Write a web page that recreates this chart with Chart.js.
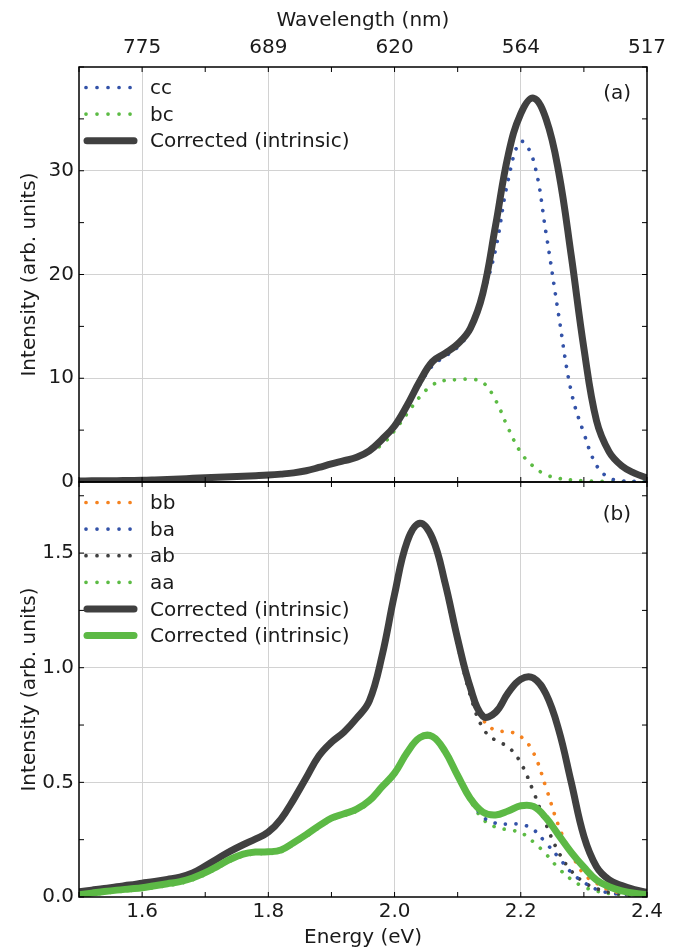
<!DOCTYPE html>
<html lang="en">
<head>
<meta charset="UTF-8">
<title>Polarized emission spectra</title>
<script src="https://cdn.jsdelivr.net/npm/chart.js@4"></script>
<style>
  html, body { margin: 0; padding: 0; background: #fff; }
  #wrap { width: 679px; height: 950px; }
</style>
</head>
<body>
<div id="wrap"><canvas id="spectra" width="679" height="950"></canvas></div>
<script>
// energy grid (eV)
const energy = [1.50, 1.52, 1.54, 1.56, 1.58, 1.60, 1.62, 1.64, 1.66, 1.68,
                1.70, 1.72, 1.74, 1.76, 1.78, 1.80, 1.82, 1.84, 1.86, 1.88,
                1.90, 1.92, 1.94, 1.96, 1.98, 2.00, 2.02, 2.04, 2.06, 2.08,
                2.10, 2.12, 2.14, 2.16, 2.18, 2.20, 2.22, 2.24, 2.26, 2.28,
                2.30, 2.32, 2.34, 2.36, 2.38, 2.40];

// top axis: wavelength labels at these energies
const wavelengthAt = [1.6, 1.8, 2.0, 2.2, 2.4];
const wavelengthLabels = ['775', '689', '620', '564', '517'];

// panel (a)
const aCc = [0.10, 0.11, 0.12, 0.13, 0.145, 0.16, 0.20, 0.25, 0.30, 0.35,
             0.41, 0.46, 0.51, 0.56, 0.61, 0.67, 0.76, 0.88, 1.08, 1.40,
             1.75, 2.05, 2.38, 3.0, 4.1, 5.3, 7.2, 9.4, 11.2, 12.1,
             13.0, 14.6, 18.0, 22.4, 29.1, 32.8, 31.0, 24.0, 16.1, 8.7,
             4.7, 1.6, 0.4, 0.12, 0.05, 0.02];
const aBc = [0.10, 0.11, 0.12, 0.13, 0.145, 0.16, 0.20, 0.25, 0.30, 0.35,
             0.41, 0.46, 0.51, 0.56, 0.61, 0.67, 0.76, 0.88, 1.08, 1.40,
             1.75, 2.05, 2.38, 2.9, 3.6, 4.95, 6.6, 8.2, 9.35, 9.8,
             9.85, 9.9, 9.6, 7.9, 5.2, 2.85, 1.5, 0.7, 0.35, 0.2,
             0.12, 0.08, 0.05, 0.03, 0.02, 0.01];
const aCorrected = [0.10, 0.11, 0.12, 0.13, 0.145, 0.16, 0.20, 0.25, 0.30, 0.35,
                    0.41, 0.46, 0.51, 0.56, 0.61, 0.67, 0.76, 0.88, 1.08, 1.40,
                    1.75, 2.05, 2.38, 3.0, 4.1, 5.4, 7.4, 9.7, 11.6, 12.4,
                    13.3, 14.8, 18.2, 24.7, 31.5, 35.5, 37.0, 35.0, 29.9, 21.8,
                    12.9, 5.9, 2.9, 1.55, 0.85, 0.4];

// panel (b)
const bBb = [0.023, 0.03, 0.037, 0.045, 0.052, 0.06, 0.068, 0.077, 0.087, 0.105,
             0.135, 0.168, 0.200, 0.228, 0.253, 0.283, 0.34, 0.425, 0.52, 0.615,
             0.675, 0.72, 0.78, 0.855, 1.05, 1.32, 1.55, 1.63, 1.565, 1.37,
             1.125, 0.914, 0.775, 0.726, 0.722, 0.70, 0.63, 0.477, 0.31, 0.19,
             0.10, 0.06, 0.03, 0.018, 0.012, 0.008];
const bBa = [0.01, 0.017, 0.024, 0.03, 0.035, 0.04, 0.049, 0.058, 0.067, 0.083,
             0.106, 0.135, 0.165, 0.187, 0.196, 0.197, 0.205, 0.237, 0.272, 0.31,
             0.344, 0.363, 0.383, 0.42, 0.48, 0.54, 0.63, 0.695, 0.70, 0.635,
             0.53, 0.43, 0.35, 0.322, 0.318, 0.317, 0.294, 0.235, 0.173, 0.107,
             0.064, 0.033, 0.018, 0.012, 0.008, 0.005];
const bAb = [0.023, 0.03, 0.037, 0.045, 0.052, 0.06, 0.068, 0.077, 0.087, 0.105,
             0.135, 0.168, 0.200, 0.228, 0.253, 0.283, 0.34, 0.425, 0.52, 0.615,
             0.675, 0.72, 0.78, 0.855, 1.05, 1.32, 1.55, 1.63, 1.55, 1.345,
             1.10, 0.88, 0.736, 0.683, 0.655, 0.585, 0.46, 0.317, 0.195, 0.114,
             0.065, 0.037, 0.02, 0.012, 0.008, 0.005];
const bAa = [0.005, 0.011, 0.017, 0.023, 0.028, 0.033, 0.041, 0.05, 0.059, 0.075,
             0.098, 0.127, 0.157, 0.179, 0.188, 0.189, 0.197, 0.229, 0.264, 0.302,
             0.336, 0.355, 0.375, 0.412, 0.472, 0.532, 0.622, 0.687, 0.692, 0.627,
             0.52, 0.42, 0.34, 0.305, 0.293, 0.281, 0.24, 0.187, 0.125, 0.077,
             0.044, 0.026, 0.015, 0.01, 0.006, 0.004];
const bCorrected = [0.023, 0.03, 0.037, 0.045, 0.052, 0.06, 0.068, 0.077, 0.087, 0.105,
                    0.135, 0.168, 0.200, 0.228, 0.253, 0.283, 0.34, 0.425, 0.52, 0.615,
                    0.675, 0.72, 0.78, 0.855, 1.05, 1.32, 1.55, 1.63, 1.565, 1.37,
                    1.125, 0.914, 0.788, 0.805, 0.89, 0.95, 0.955, 0.885, 0.73, 0.50,
                    0.265, 0.132, 0.075, 0.05, 0.032, 0.02];
const bCorrectedAlt = [0.01, 0.017, 0.024, 0.03, 0.035, 0.04, 0.049, 0.058, 0.067, 0.083,
                       0.106, 0.135, 0.165, 0.187, 0.196, 0.197, 0.205, 0.237, 0.272, 0.31,
                       0.344, 0.363, 0.383, 0.42, 0.48, 0.54, 0.63, 0.695, 0.70, 0.635,
                       0.53, 0.43, 0.37, 0.358, 0.375, 0.398, 0.395, 0.345, 0.27, 0.195,
                       0.13, 0.074, 0.045, 0.027, 0.016, 0.01];

const DARK = '#404040';
const GREEN = '#5cb945';
const dotted = [0.01, 10.5];

function pts(arr) {
    return energy.map((e, i) => ({ x: e, y: arr[i] }));
}
function dots(label, arr, color, axis) {
    return { label: label, data: pts(arr), yAxisID: axis, borderColor: color,
             borderWidth: 3.7, borderDash: dotted, borderCapStyle: 'round', order: 2 };
}
function solid(label, arr, color, axis, order) {
    return { label: label, data: pts(arr), yAxisID: axis, borderColor: color,
             borderWidth: 7, borderCapStyle: 'round', borderJoinStyle: 'round', order: order };
}

const gridGray = '#d2d2d2';

// frame, inward ticks, legends and panel letters
const panelDecor = {
    id: 'panelDecor',
    afterDatasetsDraw(chart) {
        const ctx = chart.ctx;
        const area = chart.chartArea;
        const x = chart.scales.x;
        const seg = (x1, y1, x2, y2) => { ctx.beginPath(); ctx.moveTo(x1, y1); ctx.lineTo(x2, y2); ctx.stroke(); };
        [['yA', '(a)', 27], ['yB', '(b)', 33]].forEach(([id, tag, tagDy]) => {
            const y = chart.scales[id];
            ctx.save();
            ctx.strokeStyle = '#000';
            ctx.lineWidth = 1;
            x.ticks.forEach(t => {
                const px = x.getPixelForValue(t.value);
                seg(px, y.top, px, y.top + 5);
                seg(px, y.bottom, px, y.bottom - 5);
            });
            y.ticks.forEach(t => {
                const py = y.getPixelForValue(t.value);
                seg(area.left, py, area.left + 5, py);
                seg(area.right, py, area.right - 5, py);
            });
            ctx.lineWidth = 1.5;
            ctx.strokeRect(area.left, y.top, area.right - area.left, y.bottom - y.top);

            // legend
            ctx.font = '20px "DejaVu Sans"';
            ctx.textBaseline = 'middle';
            let row = y.top + 20.5;
            chart.data.datasets.filter(d => d.yAxisID === id).forEach(d => {
                ctx.strokeStyle = d.borderColor;
                ctx.lineCap = 'round';
                if (d.borderDash) {
                    ctx.lineWidth = d.borderWidth;
                    ctx.setLineDash([0.01, 11]);
                    seg(86, row, 130.1, row);
                } else {
                    ctx.lineWidth = 7;
                    ctx.setLineDash([]);
                    seg(87, row, 134, row);
                }
                ctx.setLineDash([]);
                ctx.fillStyle = '#1a1a1a';
                ctx.textAlign = 'left';
                ctx.fillText(d.label, 150, row + 1.5);
                row += 26.6;
            });
            ctx.textAlign = 'right';
            ctx.fillText(tag, 631, y.top + tagDy);
            ctx.restore();
        });
    }
};

Chart.defaults.font.family = '"DejaVu Sans"';
Chart.defaults.font.size = 20;
Chart.defaults.color = '#1a1a1a';

new Chart(document.getElementById('spectra'), {
    type: 'line',
    data: {
        datasets: [
            dots('cc', aCc, '#3352a8', 'yA'),
            dots('bc', aBc, '#5cbb44', 'yA'),
            solid('Corrected (intrinsic)', aCorrected, DARK, 'yA', 1),
            dots('bb', bBb, '#f5821f', 'yB'),
            dots('ba', bBa, '#3352a8', 'yB'),
            dots('ab', bAb, DARK, 'yB'),
            dots('aa', bAa, '#5cbb44', 'yB'),
            solid('Corrected (intrinsic)', bCorrected, DARK, 'yB', 1),
            solid('Corrected (intrinsic)', bCorrectedAlt, GREEN, 'yB', 0)
        ]
    },
    options: {
        responsive: false,
        animation: false,
        events: [],
        layout: { padding: { left: 0, right: 32, top: 0, bottom: 0 } },
        elements: {
            point: { radius: 0 },
            line: { tension: 0.4, fill: false }
        },
        plugins: { legend: { display: false }, tooltip: { enabled: false } },
        scales: {
            x: {
                type: 'linear', position: 'bottom', min: 1.5, max: 2.4,
                afterFit: s => { s.height = 53; },
                border: { display: false },
                grid: {
                    drawTicks: false,
                    color: c => {
                        const k = Math.round(c.tick.value * 10);
                        return (k % 2 === 0 && k > 15 && k < 24) ? gridGray : 'rgba(0,0,0,0)';
                    }
                },
                ticks: {
                    stepSize: 0.1, autoSkip: false, maxRotation: 0, padding: 3,
                    callback: v => Math.round(v * 10) % 2 === 0 ? v.toFixed(1) : ''
                },
                title: { display: true, text: 'Energy (eV)', padding: { top: 0, bottom: 0 } }
            },
            x2: {
                type: 'linear', position: 'top', min: 1.5, max: 2.4,
                afterFit: s => { s.height = 67; },
                afterBuildTicks: s => { s.ticks = wavelengthAt.map(v => ({ value: v })); },
                border: { display: false },
                grid: { display: false, drawTicks: false },
                ticks: {
                    autoSkip: false, maxRotation: 0, padding: 7,
                    callback: (v, i) => wavelengthLabels[i]
                },
                title: { display: true, text: 'Wavelength (nm)', padding: { top: 9, bottom: 0 } }
            },
            yB: {
                type: 'linear', position: 'left', stack: 'panels', stackWeight: 1, weight: 0,
                min: 0, max: 1.81,
                afterFit: s => { s.width = 79; },
                border: { display: false },
                grid: {
                    drawTicks: false,
                    color: c => {
                        const k = Math.round(c.tick.value * 4);
                        return (k % 2 === 0 && k > 0) ? gridGray : 'rgba(0,0,0,0)';
                    }
                },
                ticks: {
                    stepSize: 0.25, includeBounds: false, autoSkip: false, padding: 5,
                    callback: v => Math.round(v * 4) % 2 === 0 ? v.toFixed(1) : ''
                },
                title: { display: true, text: 'Intensity (arb. units)', padding: { top: 18, bottom: 0 } }
            },
            yA: {
                type: 'linear', position: 'left', stack: 'panels', stackWeight: 1, weight: 1,
                min: 0, max: 40,
                afterFit: s => { s.width = 79; },
                border: { display: false },
                grid: {
                    drawTicks: false,
                    color: c => {
                        const v = c.tick.value;
                        return (v % 10 === 0 && v > 0 && v < 40) ? gridGray : 'rgba(0,0,0,0)';
                    }
                },
                ticks: {
                    stepSize: 5, includeBounds: false, autoSkip: false, padding: 5,
                    callback: v => (v % 10 === 0 && v < 40) ? String(v) : ''
                },
                title: { display: true, text: 'Intensity (arb. units)', padding: { top: 18, bottom: 0 } }
            }
        }
    },
    plugins: [panelDecor]
});
</script>
</body>
</html>
